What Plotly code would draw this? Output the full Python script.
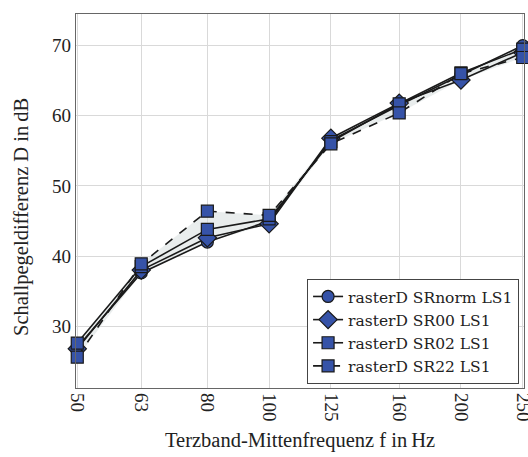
import plotly.graph_objects as go
import math

freqs = [50, 63, 80, 100, 125, 160, 200, 250]
tick_labels = ["50", "63", "80", "100", "125", "160", "200", "250"]
sr_norm = [27.0, 37.6, 42.0, 45.0, 56.5, 61.5, 65.8, 70.0]
sr00 = [26.8, 38.0, 42.6, 44.6, 56.8, 61.8, 65.1, 69.0]
sr02 = [27.6, 38.5, 43.8, 45.3, 56.3, 61.7, 66.1, 69.5]
sr22 = [25.6, 38.9, 46.4, 45.8, 56.0, 60.4, 66.0, 68.3]

series = [
    ("rasterD SRnorm LS1", sr_norm, "circle", "solid"),
    ("rasterD SR00 LS1", sr00, "diamond", "solid"),
    ("rasterD SR02 LS1", sr02, "square", "solid"),
    ("rasterD SR22 LS1", sr22, "square", "dash"),
]

all_vals = [s[1] for s in series]
upper = [max(v) for v in zip(*all_vals)]
lower = [min(v) for v in zip(*all_vals)]

fig = go.Figure()
fig.add_trace(go.Scatter(x=freqs, y=upper, mode="lines", line=dict(width=0),
                         showlegend=False, hoverinfo="skip"))
fig.add_trace(go.Scatter(x=freqs, y=lower, mode="lines", line=dict(width=0),
                         fill="tonexty", fillcolor="rgba(215,222,222,0.55)",
                         showlegend=False, hoverinfo="skip"))

blue = "#3653a8"
for name, vals, sym, dash in series:
    size = 14 if sym == "diamond" else 12
    fig.add_trace(go.Scatter(
        x=freqs, y=vals, name=name, mode="lines+markers", cliponaxis=False,
        line=dict(color="#1a1a1a", width=1.6, dash=dash),
        marker=dict(symbol=sym, size=size, color=blue,
                    line=dict(color="#1a1a1a", width=1.2)),
    ))

font_family = "Liberation Serif, DejaVu Serif, serif"
eps = 0.002
fig.update_layout(
    width=528, height=457,
    margin=dict(l=76, r=4, t=14, b=69, autoexpand=False),
    paper_bgcolor="white", plot_bgcolor="white",
    font=dict(family=font_family, color="#222", size=15),
    xaxis=dict(
        type="log", range=[math.log10(50) - eps, math.log10(250) + eps],
        tickvals=freqs, ticktext=tick_labels, tickangle=90,
        tickfont=dict(size=19), automargin=False, ticklabeloverflow="allow",
        showgrid=True, gridcolor="#d9d9d9", gridwidth=1,
        showline=True, linecolor="#666", linewidth=1.3, mirror=True,
        ticks="", zeroline=False,
    ),
    yaxis=dict(
        range=[21.2, 74.5], tickvals=[30, 40, 50, 60, 70],
        tickfont=dict(size=19), automargin=False,
        showgrid=True, gridcolor="#d9d9d9", gridwidth=1,
        showline=True, linecolor="#666", linewidth=1.3, mirror=True,
        ticks="", zeroline=False,
    ),
    legend=dict(
        x=0.989, y=0.011, xanchor="right", yanchor="bottom",
        bgcolor="white", bordercolor="#444", borderwidth=1,
        font=dict(size=15.5, family="DejaVu Serif, serif", color="#222"),
        tracegroupgap=0, itemwidth=30, traceorder="normal",
    ),
    showlegend=True,
    annotations=[
        dict(text="Terzband-Mittenfrequenz f in\u2009Hz", xref="paper", yref="paper",
             x=(300 - 76) / 448, y=-(440 - 388) / 374, xanchor="center", yanchor="middle",
             showarrow=False, font=dict(size=20.5, family=font_family, color="#222")),
        dict(text="Schallpegeldifferenz D in\u2009dB", xref="paper", yref="paper",
             x=-(76 - 22) / 448, y=(388 - 217) / 374, xanchor="center", yanchor="middle",
             textangle=-90, showarrow=False,
             font=dict(size=20.5, family=font_family, color="#222")),
    ],
)

fig.write_html("out.html", config={"displayModeBar": False},
               post_script="document.body.style.margin='0px';")
